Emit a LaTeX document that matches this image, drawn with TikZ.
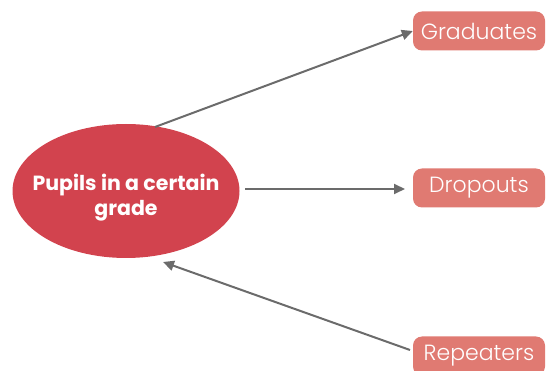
\documentclass[tikz,border=0pt]{standalone}
\usepackage{fontspec}
\setmainfont{Poppins}
\newfontfamily\lightfont{Poppins Light}
\usetikzlibrary{arrows.meta,shapes.geometric}
\definecolor{ellred}{HTML}{D2434E}
\definecolor{boxred}{HTML}{E07A72}
\definecolor{arrgray}{HTML}{6B6B6B}
\begin{document}
\begin{tikzpicture}[x=1pt,y=-1pt,
  outbox/.style={fill=boxred,text=white,rounded corners=9pt,minimum width=132pt,minimum height=39pt,inner sep=0pt,font=\lightfont\fontsize{22}{24}\selectfont},
  conn/.style={draw=arrgray,line width=2pt,-{Triangle[length=11pt,width=10pt]}}]
\useasboundingbox (0,0) rectangle (547,371);
\begin{scope}
\clip (0,0) rectangle (547,371);
\node[ellipse,fill=ellred,minimum width=227pt,minimum height=134pt,inner sep=0pt] (p) at (126,191) {};
\node[text=white,align=center,inner sep=0pt,font=\bfseries\fontsize{20.5}{25}\selectfont] (ptext) at ([yshift=-7pt]p.center) {Pupils in a certain\\grade};
\node[outbox] (g) at (479,31) {Graduates};
\node[outbox] (d) at (479,188) {Dropouts};
\node[outbox] (r) at (479,356) {Repeaters};
\coordinate (gs) at (155,127);
\coordinate (ds) at (245,189);
\coordinate (de) at (405,189);
\coordinate (rs) at (410,350);
\coordinate (re) at (163,262);
\draw[conn] (gs) -- (g.west);
\draw[conn] (ds) -- (de);
\draw[conn] (rs) -- (re);
\end{scope}
\end{tikzpicture}
\end{document}
